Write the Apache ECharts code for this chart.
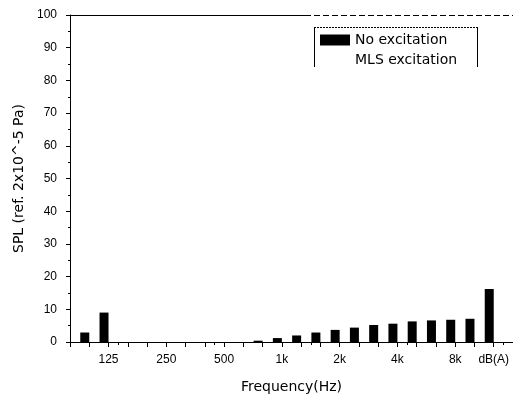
<!DOCTYPE html>
<html>
<head>
<meta charset="utf-8">
<script src="https://cdn.jsdelivr.net/npm/echarts@6/dist/echarts.min.js"></script>
<style>html,body{margin:0;padding:0;background:#fff;}#c{width:513px;height:394px;}</style>
</head>
<body>
<div id="c"></div>
<script>
// Third-octave bands (plus overall A-weighted level)
const categories = ['100','125','160','200','250','315','400','500','630','800','1k','1.25k','1.6k','2k','2.5k','3.15k','4k','5k','6.3k','8k','10k','dB(A)'];
const noExcitation = [2.9, 9.0, 0, 0, 0, 0, 0, 0, 0, 0.4, 1.2, 2.0, 2.9, 3.7, 4.4, 5.2, 5.6, 6.3, 6.6, 6.8, 7.1, 16.2];
const mlsExcitation = [null, null, null, null, null, null, null, null, null, null, null, null, null, null, null, null, null, null, null, null, null, null];
const xTickLabels = ['125','250','500','1k','2k','4k','8k','dB(A)'];
const yTicks = [0,10,20,30,40,50,60,70,80,90,100];

const FONT = 'Liberation Sans, Arial, sans-serif';
const WIDE = 'DejaVu Sans, sans-serif';
const pos = i => i + 1;
const labelPositions = xTickLabels.map(l => pos(categories.indexOf(l)));
const allTickPositions = [];
for (let i = 0; i <= categories.length + 1; i++) allTickPositions.push(i);

const chart = echarts.init(document.getElementById('c'), null, {renderer: 'canvas'});
chart.setOption({
  animation: false,
  backgroundColor: '#fff',
  textStyle: {fontFamily: FONT},
  grid: {left: 70, right: 0, top: 15, bottom: 52, containLabel: false, outerBoundsMode: 'none'},
  legend: {
    orient: 'vertical', left: 315, top: 28, itemWidth: 30, itemHeight: 11, itemGap: 6,
    textStyle: {fontFamily: WIDE, fontSize: 14, color: '#000'},
    data: [{name: 'No excitation', icon: 'rect'}, {name: 'MLS excitation', icon: 'rect'}]
  },
  xAxis: {
    type: 'value', min: 0, max: categories.length + 1,
    axisLine: {show: true, lineStyle: {color: '#000', width: 1}},
    axisTick: {show: true, customValues: allTickPositions, length: 5, lineStyle: {color: '#000'}},
    minorTick: {show: true, splitNumber: 2, length: 3, lineStyle: {color: '#000'}},
    axisLabel: {
      customValues: labelPositions, margin: 12, fontSize: 12, color: '#000', fontFamily: FONT,
      formatter: v => categories[Math.round(v) - 1] || ''
    },
    splitLine: {show: false},
    name: 'Frequency(Hz)', nameLocation: 'middle', nameGap: 38,
    nameTextStyle: {fontSize: 14, color: '#000', fontFamily: WIDE}
  },
  yAxis: {
    type: 'value', min: 0, max: 100, interval: 10,
    axisLine: {show: true, lineStyle: {color: '#000', width: 1}},
    axisTick: {show: true, length: 4, lineStyle: {color: '#000'}},
    minorTick: {show: true, splitNumber: 2, length: 2, lineStyle: {color: '#000'}},
    axisLabel: {margin: 13, fontSize: 12, color: '#000', fontFamily: FONT,
      formatter: v => yTicks.includes(v) ? String(v) : ''},
    splitLine: {show: false},
    name: 'SPL (ref. 2x10^-5 Pa)', nameLocation: 'middle', nameGap: 42,
    nameTextStyle: {fontSize: 14, color: '#000', fontFamily: WIDE}
  },
  series: [
    {
      name: 'No excitation', type: 'bar', barWidth: 9, barGap: '0%',
      itemStyle: {color: '#000'},
      data: noExcitation.map((v, i) => [pos(i), v])
    },
    {
      name: 'MLS excitation', type: 'bar', barWidth: 9, barGap: '0%',
      itemStyle: {color: 'rgba(255,255,255,0)'},
      data: mlsExcitation.map((v, i) => [pos(i), v])
    }
  ],
  graphic: [
    {type: 'line', shape: {x1: 70, y1: 15.5, x2: 305, y2: 15.5}, style: {stroke: '#000', lineWidth: 1}},
    {type: 'line', shape: {x1: 305, y1: 15.5, x2: 513, y2: 15.5}, style: {stroke: '#000', lineWidth: 1, lineDash: [6, 3]}},
    {type: 'line', shape: {x1: 314.5, y1: 27, x2: 314.5, y2: 67}, style: {stroke: '#000', lineWidth: 1}},
    {type: 'line', shape: {x1: 477.5, y1: 27, x2: 477.5, y2: 67}, style: {stroke: '#000', lineWidth: 1}},
    {type: 'line', shape: {x1: 314, y1: 27.5, x2: 478, y2: 27.5}, style: {stroke: '#000', lineWidth: 1, lineDash: [2, 1]}}
  ]
});
</script>
</body>
</html>
